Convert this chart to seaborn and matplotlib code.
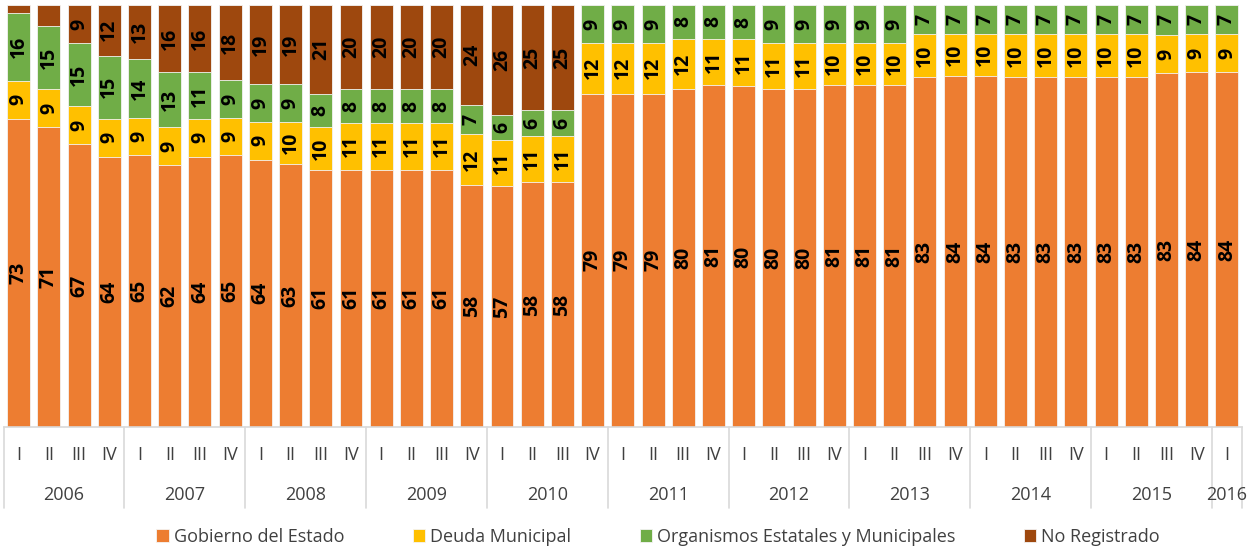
import matplotlib
import matplotlib.pyplot as plt
import matplotlib.transforms as mtransforms
import numpy as np
import pandas as pd
import seaborn as sns

matplotlib.use("Agg")

# Data (percent of total debt per quarter, as labelled in the source chart)
years = ["2006", "2007", "2008", "2009", "2010", "2011",
         "2012", "2013", "2014", "2015", "2016"]
quarters = ["I", "II", "III", "IV"]
n_quarters_last_year = 1

gobierno = [73, 71, 67, 64, 65, 62, 64, 65, 64, 63, 61, 61, 61, 61, 61, 58,
            57, 58, 58, 79, 79, 79, 80, 81, 80, 80, 80, 81, 81, 81, 83, 84,
            84, 83, 83, 83, 83, 83, 83, 84, 84]
deuda_municipal = [9, 9, 9, 9, 9, 9, 9, 9, 9, 10, 10, 11, 11, 11, 11, 12,
                   11, 11, 11, 12, 12, 12, 12, 11, 11, 11, 11, 10, 10, 10, 10, 10,
                   10, 10, 10, 10, 10, 10, 9, 9, 9]
organismos = [16, 15, 15, 15, 14, 13, 11, 9, 9, 9, 8, 8, 8, 8, 8, 7,
              6, 6, 6, 9, 9, 9, 8, 8, 8, 9, 9, 9, 9, 9, 7, 7,
              7, 7, 7, 7, 7, 7, 7, 7, 7]
no_registrado = [2, 5, 9, 12, 13, 16, 16, 18, 19, 19, 21, 20, 20, 20, 20, 24,
                 26, 25, 25, 0, 0, 0, 0, 0, 0, 0, 0, 0, 0, 0, 0, 0,
                 0, 0, 0, 0, 0, 0, 0, 0, 0]

series_names = ["Gobierno del Estado", "Deuda Municipal",
                "Organismos Estatales y Municipales", "No Registrado"]
series_colors = ["#ED7D31", "#FFC000", "#70AD47", "#9E480E"]

# period keys
periods = []
for y in years[:-1]:
    periods += [f"{y}-{q}" for q in quarters]
periods += [f"{years[-1]}-{q}" for q in quarters[:n_quarters_last_year]]

df = pd.DataFrame({
    "periodo": periods,
    series_names[0]: gobierno,
    series_names[1]: deuda_municipal,
    series_names[2]: organismos,
    series_names[3]: no_registrado,
})
vals = df[series_names].to_numpy(dtype=float)
pct = vals / vals.sum(axis=1, keepdims=True) * 100
cum = np.cumsum(pct, axis=1)

sns.set_style("white")
plt.rcParams["font.family"] = ["Open Sans", "DejaVu Sans"]

fig = plt.figure(figsize=(12.59, 5.5), dpi=100)
ax = fig.add_axes([0.0029, 0.2236, 0.9836, 0.7674])

# stacked bars: draw cumulative totals from top layer down
for i in range(len(series_names) - 1, -1, -1):
    sns.barplot(x=df["periodo"], y=cum[:, i], order=periods, color=series_colors[i],
                saturation=1, width=0.76, edgecolor="#f4f4f4", linewidth=0.6,
                label=series_names[i], ax=ax)

# value labels
for j in range(len(periods)):
    for i in range(len(series_names)):
        v = vals[j, i]
        if v < 6:
            continue
        ymid = cum[j, i] - pct[j, i] / 2
        ax.text(j, ymid, f"{int(v)}", rotation=90, ha="center", va="center",
                fontsize=14, fontweight="bold", color="black")

ax.set_xlim(-0.5, len(periods) - 0.5)
ax.set_ylim(0, 100)
ax.set_yticks([])
ax.set_xlabel("")
ax.set_ylabel("")
for s in ["top", "left", "right"]:
    ax.spines[s].set_visible(False)
ax.spines["bottom"].set_color("#D9D9D9")
ax.spines["bottom"].set_linewidth(1.2)

# quarter tick labels
ax.set_xticks(range(len(periods)))
ax.set_xticklabels([p.split("-")[1] for p in periods], fontsize=13, color="#404040")
ax.tick_params(axis="x", length=0, pad=14)

# year labels and group separators
trans = mtransforms.blended_transform_factory(ax.transData, ax.transAxes)
bounds = [-0.5]
start = 0
for k, y in enumerate(years):
    n = len(quarters) if k < len(years) - 1 else n_quarters_last_year
    center = start + (n - 1) / 2
    ax.text(center, -0.161, y, transform=trans, ha="center", va="center",
            fontsize=13, color="#404040")
    start += n
    bounds.append(start - 0.5)
for b in bounds:
    ax.plot([b, b], [0, -0.192], transform=trans, color="#D9D9D9",
            linewidth=1.2, clip_on=False)

# legend in original order, below the axis
handles, labels = ax.get_legend_handles_labels()
lookup = dict(zip(labels, handles))
if ax.get_legend() is not None:
    ax.get_legend().remove()
fig.legend([lookup[n] for n in series_names], series_names, loc="center",
           bbox_to_anchor=(0.5226, 0.024), ncol=4, frameon=False, fontsize=13,
           handlelength=0.7, handleheight=0.7, handletextpad=0.25,
           columnspacing=3.8, labelcolor="#404040")

fig.savefig("out.png", dpi=100)
